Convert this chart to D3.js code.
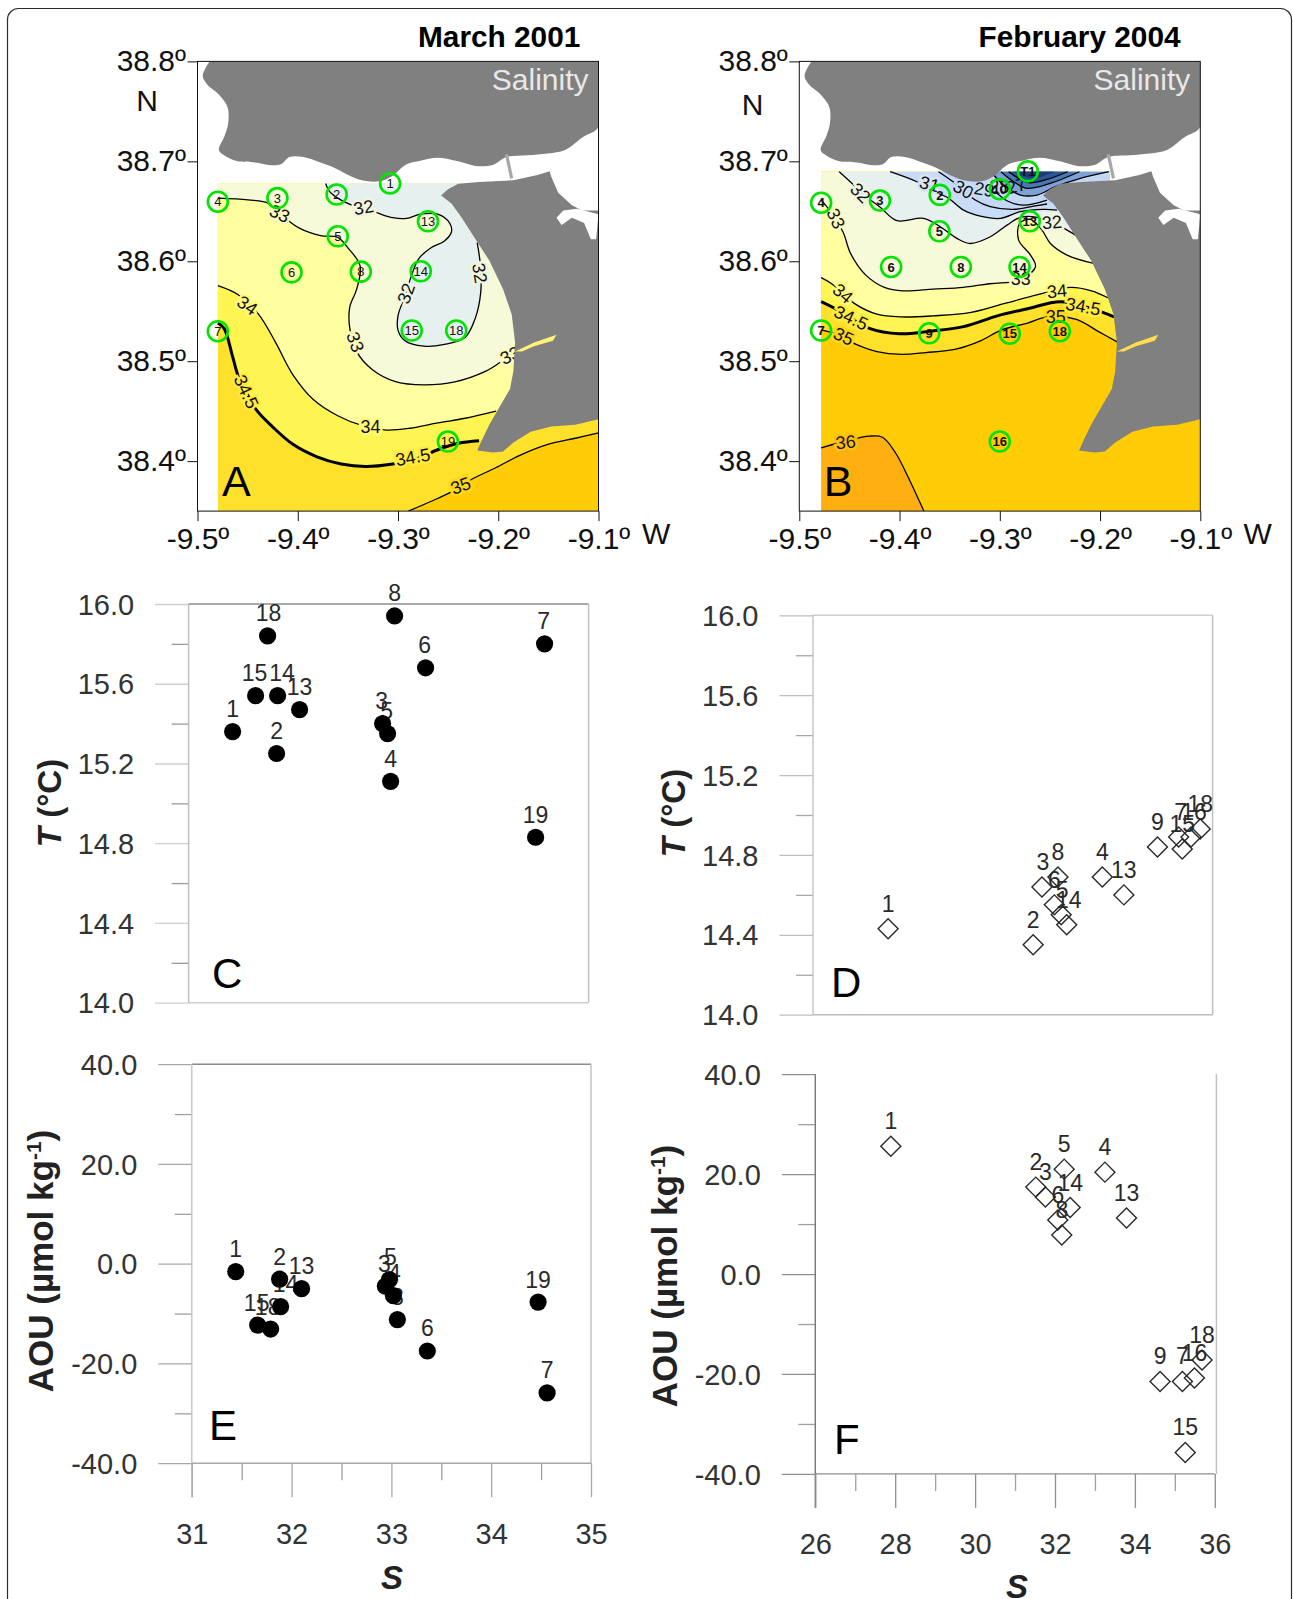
<!DOCTYPE html>
<html><head><meta charset="utf-8">
<script src="https://cdn.jsdelivr.net/npm/d3@7"></script>
<style>
html,body{margin:0;padding:0;background:#fff;overflow:hidden}
svg{display:block}
text{font-family:"Liberation Sans",Arial,sans-serif}
</style></head><body>
<svg id="c" width="1293" height="1599"></svg>
<script>
// ---------- scatter data ----------
const idsC = ["1","18","15","14","13","2","3","5","4","8","6","7","19"];
const salC = [31.44,31.79,31.67,31.89,32.11,31.88,32.94,32.99,33.02,33.06,33.37,34.56,34.47];
const tempC = [15.36,15.84,15.54,15.54,15.47,15.25,15.40,15.35,15.11,15.94,15.68,15.80,14.83];
const dxC = [0,1,-1,4.5,0,0,-1,-1,0,0,-1,-1,0];

const idsE = ["1","2","13","14","15","18","3","5","4","8","6","19","7"];
const salE = [31.44,31.88,32.10,31.89,31.66,31.79,32.94,32.98,33.02,33.06,33.36,34.47,34.56];
const aouE = [-1.6,-3.1,-5.0,-8.6,-12.3,-13.1,-4.5,-3.2,-6.4,-11.2,-17.5,-7.7,-25.9];
const dxE = [0,0,0,5,-1,-3,-1,1,1,0,0,0,0];

const idsD = ["1","2","3","4","5","6","7","8","9","13","14","15","16","18"];
const salD = [27.88,31.51,31.73,33.24,32.21,32.04,35.15,32.13,34.62,33.78,32.35,35.24,35.46,35.69];
const tempD = [14.43,14.35,14.64,14.69,14.50,14.55,14.89,14.69,14.84,14.60,14.45,14.83,14.89,14.93];
const dxD = [0,0,1,0,1,0,2,0,0,0,2,0,3,0];

const idsF = ["1","2","3","4","5","6","7","8","9","13","14","15","16","18"];
const salF = [27.89,31.52,31.76,33.25,32.23,32.07,35.19,32.17,34.63,33.79,32.38,35.26,35.49,35.68];
const aouF = [25.6,17.4,15.4,20.4,21.0,10.8,-21.5,7.8,-21.5,11.2,13.3,-35.7,-20.8,-17.2];

const tempMajor = [14,14.4,14.8,15.2,15.6,16];
const tempMinor = [14.2,14.6,15,15.4,15.8];
const aouMajor = [-40,-20,0,20,40];
const aouMinor = [-30,-10,10,30];
const salMajorE = [31,32,33,34,35];
const salMinorE = [31.5,32.5,33.5,34.5];
const salMajorF = [26,28,30,32,34,36];
const salMinorF = [27,29,31,33,35];

// ---------- map data (lon, lat) ----------
const lonTicks = [-9.5,-9.4,-9.3,-9.2,-9.1];
const latTicks = [38.4,38.5,38.6,38.7,38.8];

const landNorth = [[-9.488,38.8],[-9.4948,38.7857],[-9.4907,38.7775],[-9.4787,38.7668],[-9.4701,38.7543],[-9.4694,38.7382],[-9.4729,38.7257],[-9.4787,38.7114],[-9.4735,38.7061],[-9.4598,38.7],[-9.4426,38.6989],[-9.4289,38.6964],[-9.4168,38.6971],[-9.4082,38.7043],[-9.3945,38.7043],[-9.3773,38.6989],[-9.3636,38.6936],[-9.3498,38.6864],[-9.3361,38.6811],[-9.3189,38.68],[-9.3069,38.6846],[-9.2914,38.6971],[-9.2777,38.7007],[-9.2605,38.7036],[-9.2399,38.7],[-9.2227,38.6954],[-9.2055,38.6964],[-9.1918,38.7043],[-9.1711,38.7061],[-9.1505,38.7079],[-9.1333,38.7114],[-9.1162,38.7239],[-9.1,38.7346],[-9.1,38.8]];
const landSouth = [[-9.1,38.6507],[-9.1162,38.6507],[-9.1265,38.6561],[-9.1402,38.6686],[-9.1471,38.6846],[-9.1488,38.69],[-9.1608,38.6864],[-9.1849,38.6811],[-9.2192,38.6793],[-9.2399,38.6775],[-9.2502,38.6721],[-9.257,38.6657],[-9.2467,38.6579],[-9.2364,38.6436],[-9.2227,38.6221],[-9.2089,38.6007],[-9.1952,38.5721],[-9.1866,38.5471],[-9.1832,38.5186],[-9.1849,38.49],[-9.1883,38.4721],[-9.1986,38.4543],[-9.2089,38.4364],[-9.2158,38.4221],[-9.221,38.4107],[-9.2055,38.4086],[-9.1952,38.4096],[-9.1849,38.4186],[-9.1677,38.4293],[-9.1471,38.4346],[-9.123,38.4364],[-9.1,38.4418]];
const inlet = [[-9.1419,38.6436],[-9.1351,38.6507],[-9.1213,38.6525],[-9.1,38.6471],[-9.1024,38.6221],[-9.1076,38.6221],[-9.1144,38.6382],[-9.1265,38.6436],[-9.1368,38.6364]];
const sado = [[-9.1832,38.5096],[-9.1643,38.5186],[-9.1419,38.5264],[-9.1454,38.5204],[-9.1643,38.515],[-9.1763,38.5096]];
const bridge = [[-9.1918,38.7071],[-9.1866,38.6829]];
const riverEast = [[-9.19,38.71],[-9.1,38.71],[-9.1,38.62],[-9.19,38.62]];

const stationIdsA = ["1","2","3","4","5","6","7","8","13","14","15","18","19"];
const stationLonA = [-9.3079,-9.3612,-9.4203,-9.4797,-9.3601,-9.4062,-9.4797,-9.3371,-9.2701,-9.2773,-9.2863,-9.2419,-9.2502];
const stationLatA = [38.6779,38.6668,38.6632,38.6596,38.625,38.5889,38.53,38.5896,38.64,38.59,38.5307,38.5307,38.4196];

const stationIdsB = ["T1","10","2","3","4","5","6","7","8","9","13","14","15","16","18"];
const stationLonB = [-9.272,-9.3,-9.3599,-9.4196,-9.4782,-9.3603,-9.4084,-9.4782,-9.3389,-9.3704,-9.2701,-9.2803,-9.29,-9.3,-9.2401];
const stationLatB = [38.69,38.6721,38.6664,38.6607,38.6586,38.63,38.5943,38.5307,38.5943,38.5279,38.64,38.5943,38.5275,38.4196,38.53];

// March 2001 salinity contours
const a35 = [[-9.2897,38.35],[-9.2674,38.3596],[-9.2467,38.3693],[-9.2278,38.3811],[-9.2021,38.3936],[-9.178,38.4061],[-9.1505,38.4168],[-9.123,38.4229],[-9.1,38.4282]];
const a345 = [[-9.4797,38.5382],[-9.4735,38.5329],[-9.4649,38.5043],[-9.4598,38.4864],[-9.4512,38.4686],[-9.4409,38.4507],[-9.4254,38.4346],[-9.4048,38.4168],[-9.3808,38.4043],[-9.3567,38.3971],[-9.3326,38.3946],[-9.3052,38.3971],[-9.2811,38.4025],[-9.2605,38.4114],[-9.2399,38.4179],[-9.2192,38.4204]];
const a34 = [[-9.4797,38.5757],[-9.4598,38.5668],[-9.4392,38.5471],[-9.422,38.5186],[-9.4048,38.4864],[-9.3842,38.4614],[-9.3601,38.4454],[-9.3361,38.4357],[-9.312,38.4311],[-9.288,38.4329],[-9.2605,38.4382],[-9.233,38.4429],[-9.2021,38.45]];
const a33 = [[-9.4797,38.6632],[-9.4495,38.6614],[-9.4289,38.6579],[-9.4151,38.6454],[-9.3979,38.6329],[-9.3773,38.6257],[-9.3601,38.6239],[-9.3498,38.6132],[-9.3378,38.5954],[-9.3412,38.5721],[-9.3481,38.5543],[-9.3481,38.5329],[-9.3412,38.5096],[-9.3258,38.4918],[-9.3017,38.4793],[-9.2742,38.4764],[-9.2433,38.4793],[-9.2124,38.49],[-9.1952,38.5007],[-9.1797,38.5096]];
const a32 = [[-9.3722,38.6779],[-9.3687,38.6704],[-9.3601,38.6632],[-9.343,38.655],[-9.3223,38.6489],[-9.3052,38.6436],[-9.2914,38.6429],[-9.2777,38.6471],[-9.2605,38.6471],[-9.2485,38.6382],[-9.2467,38.6293],[-9.2536,38.6204],[-9.2674,38.6132],[-9.2794,38.6025],[-9.2863,38.5864],[-9.2931,38.565],[-9.3,38.5454],[-9.3,38.5311],[-9.2931,38.5204],[-9.2742,38.515],[-9.2536,38.5168],[-9.233,38.5239],[-9.2227,38.5436],[-9.2175,38.5686],[-9.2175,38.5936],[-9.221,38.6186]];

// February 2004 salinity contours
const b36 = [[-9.4782,38.4132],[-9.4527,38.4204],[-9.4301,38.425],[-9.417,38.4239],[-9.4038,38.4079],[-9.3926,38.3864],[-9.3757,38.35]];
const b35 = [[-9.4782,38.5311],[-9.4639,38.5275],[-9.4433,38.5168],[-9.4226,38.5096],[-9.3982,38.5068],[-9.3738,38.5086],[-9.3438,38.5121],[-9.3193,38.5204],[-9.2987,38.5311],[-9.2724,38.5382],[-9.2517,38.5446],[-9.2236,38.5418],[-9.201,38.5293],[-9.183,38.5193]];
const b345 = [[-9.4782,38.5596],[-9.4639,38.5525],[-9.4301,38.5329],[-9.4001,38.5275],[-9.37,38.53],[-9.3362,38.5346],[-9.3024,38.5454],[-9.2724,38.5525],[-9.2386,38.5596],[-9.1973,38.5489],[-9.186,38.5443]];
const b34 = [[-9.4782,38.5836],[-9.4677,38.5775],[-9.4452,38.5579],[-9.4226,38.5471],[-9.3982,38.5443],[-9.3663,38.5454],[-9.3287,38.5489],[-9.2949,38.5579],[-9.2611,38.5668],[-9.2292,38.5739],[-9.2085,38.5704],[-9.1916,38.5632]];
const b33 = [[-9.4782,38.6614],[-9.4696,38.6507],[-9.4564,38.6293],[-9.4489,38.6079],[-9.4339,38.5864],[-9.4151,38.5739],[-9.3963,38.5704],[-9.3663,38.5721],[-9.3362,38.5739],[-9.31,38.5775],[-9.2855,38.5793],[-9.2794,38.5811],[-9.2644,38.5945],[-9.2694,38.6062],[-9.2812,38.6212],[-9.2802,38.6379],[-9.2695,38.6419],[-9.2579,38.6312],[-9.2495,38.6178],[-9.2329,38.6062],[-9.2062,38.5978]];
const b32 = [[-9.4602,38.6896],[-9.4489,38.6793],[-9.4339,38.665],[-9.4196,38.6543],[-9.4027,38.6406],[-9.3761,38.6429],[-9.3594,38.6345],[-9.3428,38.6229],[-9.3294,38.6178],[-9.3094,38.6245],[-9.2928,38.6362],[-9.2794,38.6439],[-9.2629,38.6439],[-9.2479,38.6379],[-9.2329,38.6312],[-9.2196,38.6229]];
const b31 = [[-9.4094,38.6896],[-9.3828,38.6796],[-9.3611,38.668],[-9.3511,38.663],[-9.3361,38.6512],[-9.3194,38.6452],[-9.2994,38.6429],[-9.2794,38.6496],[-9.2562,38.6519],[-9.2429,38.6512]];
const b30 = [[-9.3611,38.6896],[-9.3445,38.678],[-9.3328,38.668],[-9.3245,38.6613],[-9.3095,38.6546],[-9.2862,38.6519],[-9.2662,38.6552],[-9.2529,38.6573]];
const b29 = [[-9.3062,38.6713],[-9.2929,38.6606],[-9.2762,38.6562],[-9.2529,38.6613]];
const b28 = [[-9.3088,38.6896],[-9.2962,38.6763],[-9.2795,38.6663],[-9.2629,38.6663],[-9.2446,38.6746],[-9.2196,38.683],[-9.1913,38.6896]];
const b27 = [[-9.2989,38.6896],[-9.2862,38.6796],[-9.2729,38.673],[-9.2496,38.678],[-9.2206,38.6896]];
const b26 = [[-9.2912,38.6896],[-9.2812,38.683],[-9.2712,38.6786],[-9.2529,38.682],[-9.2323,38.6896]];
const b25 = [[-9.2862,38.6896],[-9.2762,38.6846],[-9.2629,38.6836],[-9.2446,38.6896]];

const labelsA = [[-9.4179,38.6479,"33",25],[-9.3344,38.6543,"32",-10],[-9.2182,38.5882,"32",80],[-9.2921,38.5679,"32",-70],[-9.3423,38.5193,"33",70],[-9.1883,38.5061,"33",-25],[-9.4502,38.5561,"34",35],[-9.4512,38.4696,"34.5",65],[-9.3275,38.4346,"34",0],[-9.2852,38.4043,"34.5",-10],[-9.2375,38.3757,"35",-20]];
const labelsB = [[-9.4388,38.6686,"32",45],[-9.4632,38.6429,"33",65],[-9.4564,38.5679,"34",40],[-9.4482,38.5436,"34.5",25],[-9.4557,38.525,"35",25],[-9.2442,38.5446,"35",0],[-9.2431,38.5704,"34",-5],[-9.2168,38.555,"34.5",10],[-9.2792,38.5829,"33",0],[-9.248,38.6393,"32",-5],[-9.4538,38.4193,"36",-5],[-9.37,38.6775,"31",15],[-9.3362,38.6721,"30",30],[-9.3156,38.6721,"29",10],[-9.3005,38.675,"28",0],[-9.2837,38.6757,"27",-15]];

const colour = {c36:"#ffb010",c35:"#ffcc05",c345:"#ffe02b",c34:"#fff552",c33:"#ffffa0",c32:"#f7fad8",c31:"#e6f0ee",c30:"#c8dcf8",c29:"#c4d8f6",c28:"#a4c0ea",c27:"#7da2d8",c26:"#4a76b2",c25:"#2b5693",c24:"#1c3a75"};
const halo = {"36":"#ffbe10","35":"#ffd618","34.5":"#ffea40","34":"#fff878","33":"#fbfcc0","32":"#f0f5e0","31":"#d6e4f4","30":"#c8dcf8","29":"#c8dcf8","28":"none","27":"none"};

// ---------- drawing ----------
const svg = d3.select("#c");
const font = '"Liberation Sans",Arial,sans-serif';

svg.append("rect").attr("x",7.5).attr("y",8.5).attr("width",1284).attr("height",1700).attr("rx",11)
  .attr("fill","#fff").attr("stroke","#2b2b2b").attr("stroke-width",1.2);

function drawMap(o){
  const x = d3.scaleLinear().domain([-9.5,-9.1]).range([o.x0,o.x0+401]);
  const y = d3.scaleLinear().domain([38.35,38.8]).range([511.1,61.4]);
  const g = svg.append("g");
  const clipId = "clip"+o.letter;
  svg.append("clipPath").attr("id",clipId).append("rect").attr("x",x(-9.5)).attr("y",y(38.8)).attr("width",401).attr("height",449.7);
  const field = g.append("g").attr("clip-path",`url(#${clipId})`);
  const line = d3.line().x(d=>x(d[0])).y(d=>y(d[1])).curve(d3.curveCatmullRom.alpha(0.5));
  const poly = d3.line().x(d=>x(d[0])).y(d=>y(d[1]));
  // field
  field.append("rect").attr("x",x(o.lonL)).attr("y",y(o.latT)).attr("width",x(-9.1)-x(o.lonL)).attr("height",y(38.35)-y(o.latT)).attr("fill",o.base);
  o.fills.forEach(f=>{
    const close = f.close.map(p=>"L"+x(p[0])+","+y(p[1])).join("");
    field.append("path").attr("d",line(f.c)+close+"Z").attr("fill",f.col);
  });
  o.lines.forEach(l=>{
    field.append("path").attr("d",line(l.c)).attr("fill","none").attr("stroke","#000").attr("stroke-width",l.w||1.3);
  });
  // contour labels
  field.selectAll("text.lab").data(o.labels).join("text").attr("class","lab")
    .attr("transform",d=>`translate(${x(d[0])},${y(d[1])}) rotate(${d[3]})`)
    .attr("text-anchor","middle").attr("dy","0.36em").attr("font-size",18).attr("fill","#111")
    .attr("stroke",d=>halo[d[2]]).attr("stroke-width",d=>halo[d[2]]==="none"?0:5).attr("paint-order","stroke").text(d=>d[2]);
  // river, land
  field.append("path").attr("d",poly(riverEast)+"Z").attr("fill","#fff");
  field.append("path").attr("d",line(landNorth)+"Z").attr("fill","#808080");
  field.append("path").attr("d",poly(landSouth)+"Z").attr("fill","#808080");
  field.append("path").attr("d",poly(inlet)+"Z").attr("fill","#fff");
  field.append("path").attr("d",poly(sado)+"Z").attr("fill",o.sado);
  field.append("path").attr("d",poly(bridge)).attr("stroke","#a8a8a8").attr("stroke-width",3.2).attr("fill","none");
  // frame and axes
  g.append("rect").attr("x",x(-9.5)).attr("y",y(38.8)).attr("width",401).attr("height",449.7).attr("fill","none").attr("stroke","#111").attr("stroke-width",1);
  const ax = g.append("g").attr("transform",`translate(0,${y(38.35)})`)
    .call(d3.axisBottom(x).tickValues(lonTicks).tickSize(10).tickPadding(5).tickFormat(d=>d.toFixed(1)+"º"));
  const ay = g.append("g").attr("transform",`translate(${x(-9.5)},0)`)
    .call(d3.axisLeft(y).tickValues(latTicks).tickSize(10).tickPadding(1.5).tickFormat(d=>d.toFixed(1)+"º"));
  [ax,ay].forEach(a=>{a.select(".domain").remove();a.selectAll("line").attr("stroke","#111");
    a.selectAll("text").attr("font-family",font).attr("font-size",30).attr("fill","#111");});
  ax.selectAll("text").attr("dy","0.78em");
  ay.selectAll("text").attr("dy","0.3em");
  // stations
  const st = g.selectAll("g.st").data(o.ids.map((id,i)=>({id,lon:o.lon[i],lat:o.lat[i]}))).join("g").attr("class","st")
    .attr("transform",d=>`translate(${x(d.lon)},${y(d.lat)})`);
  st.append("text").attr("text-anchor","middle").attr("dy","0.36em").attr("font-size",13).attr("font-weight",o.bold?"700":"400").attr("fill","#111").text(d=>d.id);
  st.append("circle").attr("r",10).attr("fill","none").attr("stroke","#00e400").attr("stroke-width",2.6);
  // text
  g.append("text").attr("x",o.titleX).attr("y",47.2).attr("font-size",29.8).attr("font-weight",700).attr("fill","#000").text(o.title);
  g.append("text").attr("x",o.x0+391).attr("y",90).attr("text-anchor","end").attr("font-size",30).attr("fill","#e8e8e8").text("Salinity");
  g.append("text").attr("x",o.nX).attr("y",o.nY).attr("text-anchor","middle").attr("font-size",30).attr("fill","#111").text("N");
  g.append("text").attr("x",o.wX).attr("y",544).attr("font-size",30).attr("fill","#111").text("W");
  g.append("text").attr("x",o.x0+24.5).attr("y",495.7).attr("font-size",43).attr("fill","#000").text(o.letter);
}

const east=-9.17, topA=38.6779, topB=38.6896;
drawMap({letter:"A",x0:197.5,title:"March 2001",titleX:418,nX:147,nY:111.4,wX:642,lonL:-9.4797,latT:topA,base:colour.c345,bold:false,sado:"#fff27a",
  ids:stationIdsA,lon:stationLonA,lat:stationLatA,labels:labelsA,
  fills:[
    {c:a35,close:[[-9.1,38.35]],col:colour.c35},
    {c:a345,close:[[east,38.44],[east,topA],[-9.4797,topA]],col:colour.c34},
    {c:a34,close:[[east,38.46],[east,topA],[-9.4797,topA]],col:colour.c33},
    {c:a33,close:[[east,38.51],[east,topA],[-9.4797,topA]],col:colour.c32},
    {c:a32,close:[[-9.2,38.6186],[-9.2,topA]],col:colour.c31}],
  lines:[{c:a35},{c:a345,w:3},{c:a34},{c:a33},{c:a32}]});
drawMap({letter:"B",x0:799.3,title:"February 2004",titleX:978.5,nX:752.7,nY:115,wX:1243.6,lonL:-9.4782,latT:topB,base:colour.c35,bold:true,sado:"#ffdc50",
  ids:stationIdsB,lon:stationLonB,lat:stationLatB,labels:labelsB,
  fills:[
    {c:b36,close:[[-9.4782,38.35]],col:colour.c36},
    {c:b35,close:[[east,38.52],[east,topB],[-9.4782,topB]],col:colour.c345},
    {c:b345,close:[[east,38.55],[east,topB],[-9.4782,topB]],col:colour.c34},
    {c:b34,close:[[east,38.57],[east,topB],[-9.4782,topB]],col:colour.c33},
    {c:b33,close:[[east,38.6],[east,topB],[-9.4782,topB]],col:colour.c32},
    {c:b32,close:[[east,38.62],[east,topB]],col:colour.c31},
    {c:b31,close:[[east,38.65],[east,topB]],col:colour.c30},
    {c:b30,close:[[east,38.66],[east,topB]],col:colour.c29},
    {c:b28,close:[],col:colour.c27},
    {c:b27,close:[],col:colour.c26},
    {c:b26,close:[],col:colour.c25},
    {c:b25,close:[],col:colour.c24}],
  lines:[{c:b36},{c:b35},{c:b345,w:3},{c:b34},{c:b33},{c:b32},{c:b31},{c:b30},{c:b29},{c:b28},{c:b27},{c:b26}]});

function drawScatter(o){
  const x = d3.scaleLinear().domain(o.xDom).range(o.xR);
  const y = d3.scaleLinear().domain(o.yDom).range(o.yR);
  const g = svg.append("g");
  const L = o.xR[0], R = o.xR[1], T = o.yR[1], B = o.yR[0];
  // frame
  if(o.top) g.append("line").attr("x1",L).attr("x2",R).attr("y1",T).attr("y2",T).attr("stroke",o.top).attr("stroke-width",1.4);
  g.append("line").attr("x1",o.frameR||R).attr("x2",o.frameR||R).attr("y1",T).attr("y2",B).attr("stroke","#bdbdbd").attr("stroke-width",1.4);
  const style = (a,c)=>{a.select(".domain").remove();a.selectAll("line").attr("stroke",c).attr("stroke-width",1.3);};
  // minor + major y ticks
  style(g.append("g").attr("transform",`translate(${L},0)`).call(d3.axisLeft(y).tickValues(o.yMinor).tickSize(17).tickFormat("")),o.minorC);
  const ay = g.append("g").attr("transform",`translate(${L},0)`)
     .call(d3.axisLeft(y).tickValues(o.yMajor).tickSize(33.5).tickPadding(21).tickFormat(d=>d.toFixed(1)));
  style(ay,o.majorC);
  ay.selectAll("text").attr("font-family",font).attr("font-size",29).attr("fill","#333").attr("dy","0.35em");
  g.append("line").attr("x1",L).attr("x2",L).attr("y1",T).attr("y2",B+(o.xMajor?34:0)).attr("stroke",o.leftC).attr("stroke-width",1.4);
  g.append("line").attr("x1",L).attr("x2",R).attr("y1",B).attr("y2",B).attr("stroke",o.majorC).attr("stroke-width",1.4);
  if(o.xMajor){
    style(g.append("g").attr("transform",`translate(0,${B})`).call(d3.axisBottom(x).tickValues(o.xMinor).tickSize(17).tickFormat("")),o.minorC);
    const ax = g.append("g").attr("transform",`translate(0,${B})`)
      .call(d3.axisBottom(x).tickValues(o.xMajor).tickSize(34).tickPadding(26).tickFormat(d3.format("d")));
    style(ax,o.majorC);
    ax.selectAll("text").attr("font-family",font).attr("font-size",29).attr("fill","#333");
    g.append("text").attr("x",o.sX).attr("y",o.sY).attr("text-anchor","middle").attr("font-size",33).attr("font-weight",700).attr("font-style","italic").attr("fill","#222").text("S");
  }
  const pts = o.ids.map((id,i)=>({id,s:o.sal[i],v:o.val[i],dx:o.dx?o.dx[i]:0}));
  // labels
  g.selectAll("text.pl").data(pts).join("text").attr("class","pl")
    .attr("x",d=>x(d.s)+d.dx).attr("y",d=>y(d.v)+(o.filled?-14.5:-17)).attr("text-anchor","middle")
    .attr("font-size",23).attr("fill","#2a2a2a").text(d=>d.id);
  // marks
  if(o.filled){
    g.selectAll("circle.p").data(pts).join("circle").attr("class","p").attr("cx",d=>x(d.s)).attr("cy",d=>y(d.v)).attr("r",8.6).attr("fill","#000");
  } else {
    const sym = d3.symbol().type(d3.symbolSquare).size(200);
    g.selectAll("path.p").data(pts).join("path").attr("class","p").attr("d",sym)
      .attr("transform",d=>`translate(${x(d.s)},${y(d.v)}) rotate(45)`)
      .attr("fill","none").attr("stroke","#2a2a2a").attr("stroke-width",1.4);
  }
  // y title
  const yt = g.append("text").attr("transform",`translate(${o.tX},${o.tY}) rotate(-90)`).attr("text-anchor","middle")
     .attr("font-size",o.temp?33:35).attr("font-weight",700).attr("fill","#222");
  if(o.temp){
    yt.append("tspan").attr("font-style","italic").text("T");
    yt.append("tspan").text(" (°C)");
  } else {
    yt.append("tspan").text("AOU (µmol kg");
    yt.append("tspan").attr("font-size",21).attr("dy",-12).text("-1");
    yt.append("tspan").attr("dy",12).text(")");
  }
  g.append("text").attr("x",o.lX).attr("y",o.lY).attr("font-size",42).attr("fill","#000").text(o.letter);
}

drawScatter({letter:"C",lX:212,lY:988,filled:true,temp:true,tX:61,tY:803,xDom:[31,35],xR:[188.6,588.6],yDom:[14,16],yR:[1002.7,604],
  yMajor:tempMajor,yMinor:tempMinor,majorC:"#cfcfcf",minorC:"#9a9a9a",leftC:"#bdbdbd",top:"#8c8c8c",ids:idsC,sal:salC,val:tempC,dx:dxC});
drawScatter({letter:"D",lX:831,lY:996.7,filled:false,temp:true,tX:685,tY:813,xDom:[26,36],xR:[813,1212.6],yDom:[14,16],yR:[1014.7,615.3],
  yMajor:tempMajor,yMinor:tempMinor,majorC:"#bdbdbd",minorC:"#a8a8a8",leftC:"#c4c4c4",top:"#cfcfcf",ids:idsD,sal:salD,val:tempD,dx:dxD});
drawScatter({letter:"E",lX:209,lY:1440,filled:true,temp:false,tX:53,tY:1261,xDom:[31,35],xR:[191.8,591],yDom:[-40,40],yR:[1463.2,1064.2],
  yMajor:aouMajor,yMinor:aouMinor,majorC:"#a8a8a8",minorC:"#a0a0a0",leftC:"#c4c4c4",top:"#8c8c8c",xMajor:salMajorE,xMinor:salMinorE,sX:392,sY:1589,ids:idsE,sal:salE,val:aouE,dx:dxE});
drawScatter({letter:"F",lX:834,lY:1453.5,filled:false,temp:false,tX:676.6,tY:1276,xDom:[26,36],xR:[815.3,1214.8],frameR:1216.4,yDom:[-40,40],yR:[1473.9,1074.2],
  yMajor:aouMajor,yMinor:aouMinor,majorC:"#8f8f8f",minorC:"#a0a0a0",leftC:"#777",top:null,xMajor:salMajorF,xMinor:salMinorF,sX:1017,sY:1598,ids:idsF,sal:salF,val:aouF});
</script>
</body></html>
